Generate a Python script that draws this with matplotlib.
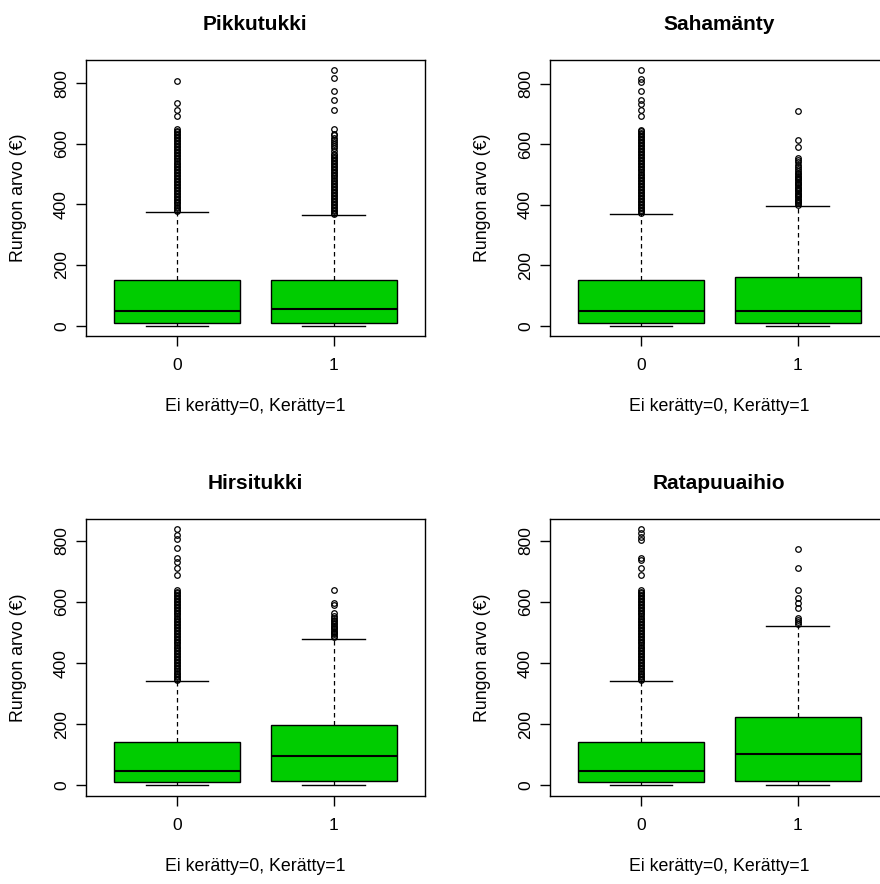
"""Stem value by collection status, one boxplot panel per timber assortment."""
import matplotlib
matplotlib.use("Agg")
import matplotlib.pyplot as plt

plt.rcParams.update({
    "font.family": ["Liberation Sans", "DejaVu Sans"],
    "font.size": 12.5,
    "axes.linewidth": 1.0,
})

GREEN = "#00cc00"

GROUPS = ["0", "1"]
TITLES = ["Pikkutukki", "Sahamänty", "Hirsitukki", "Ratapuuaihio"]
XLABEL = "Ei kerätty=0, Kerätty=1"
YLABEL = "Rungon arvo (€)"
YTICKS = [0, 200, 400, 600, 800]

# box statistics per assortment: [not collected, collected]
Q1 = [[8, 8], [8, 8], [11, 15], [11, 15]]
MEDIAN = [[47, 54], [47, 47], [46, 97], [46, 104]]
Q3 = [[152, 152], [152, 161], [143, 199], [143, 222]]
WHISLO = [[0, 0], [0, 0], [0, 0], [0, 0]]
WHISHI = [[375, 364], [370, 396], [341, 480], [341, 520]]

# values above the upper whisker
FLIERS_PIKKU_0 = [378, 383, 388, 393, 398, 403, 408, 413, 418, 423, 428, 433,
                  438, 443, 448, 453, 458, 463, 468, 473, 478, 483, 488, 493,
                  498, 503, 508, 513, 518, 523, 528, 533, 538, 543, 548, 553,
                  558, 563, 568, 573, 578, 583, 588, 593, 598, 603, 608, 613,
                  618, 623, 628, 633, 638, 643, 648, 690, 712, 734, 808]
FLIERS_PIKKU_1 = [367, 372, 377, 382, 387, 392, 397, 402, 407, 412, 417, 422,
                  427, 432, 437, 442, 447, 452, 457, 462, 467, 472, 477, 482,
                  487, 492, 497, 502, 507, 512, 517, 522, 527, 532, 537, 542,
                  547, 552, 557, 562, 567, 575, 585, 592, 600, 607, 613, 620,
                  628, 633, 648, 710, 745, 775, 818, 842]
FLIERS_SAHA_0 = [373, 378, 383, 388, 393, 398, 403, 408, 413, 418, 423, 428,
                 433, 438, 443, 448, 453, 458, 463, 468, 473, 478, 483, 488,
                 493, 498, 503, 508, 513, 518, 523, 528, 533, 538, 543, 548,
                 553, 558, 563, 568, 573, 578, 583, 588, 593, 598, 603, 608,
                 613, 618, 623, 628, 633, 638, 643, 648, 694, 712, 734, 745,
                 775, 805, 814, 844]
FLIERS_SAHA_1 = [400, 404, 408, 412, 416, 420, 424, 428, 432, 436, 440, 444,
                 448, 452, 456, 460, 464, 468, 472, 476, 480, 484, 488, 492,
                 496, 500, 505, 512, 518, 525, 532, 540, 548, 553, 590, 615, 710]
FLIERS_HIRSI_0 = [344, 349, 354, 359, 364, 369, 374, 379, 384, 389, 394, 399,
                  404, 409, 414, 419, 424, 429, 434, 439, 444, 449, 454, 459,
                  464, 469, 474, 479, 484, 489, 494, 499, 504, 509, 514, 519,
                  524, 529, 534, 539, 544, 549, 554, 559, 564, 569, 574, 579,
                  584, 589, 594, 599, 604, 609, 614, 619, 624, 629, 634, 639,
                  689, 710, 732, 743, 776, 805, 820, 838]
FLIERS_HIRSI_1 = [485, 490, 494, 498, 502, 506, 510, 514, 518, 522, 527, 532,
                  537, 542, 548, 555, 563, 589, 598, 640]
FLIERS_RATA_0 = [344, 349, 354, 359, 364, 369, 374, 379, 384, 389, 394, 399,
                 404, 409, 414, 419, 424, 429, 434, 439, 444, 449, 454, 459,
                 464, 469, 474, 479, 484, 489, 494, 499, 504, 509, 514, 519,
                 524, 529, 534, 539, 544, 549, 554, 559, 564, 569, 574, 579,
                 584, 589, 594, 599, 604, 609, 614, 619, 624, 629, 634, 639,
                 689, 710, 736, 743, 803, 812, 825, 838]
FLIERS_RATA_1 = [527, 533, 540, 546, 581, 597, 613, 640, 711, 773]

FLIERS = [[FLIERS_PIKKU_0, FLIERS_PIKKU_1], [FLIERS_SAHA_0, FLIERS_SAHA_1],
          [FLIERS_HIRSI_0, FLIERS_HIRSI_1], [FLIERS_RATA_0, FLIERS_RATA_1]]

# panel rectangles in figure fractions (right column runs off the page edge)
PANEL_RECTS = [
    [0.0977, 0.620, 0.385, 0.312],
    [0.625, 0.620, 0.385, 0.312],
    [0.0977, 0.100, 0.385, 0.313],
    [0.625, 0.100, 0.385, 0.313],
]

fig = plt.figure(figsize=(8.8, 8.84), dpi=100)

for i, rect in enumerate(PANEL_RECTS):
    ax = fig.add_axes(rect)
    stats = []
    for g in range(len(GROUPS)):
        stats.append({
            "q1": Q1[i][g], "med": MEDIAN[i][g], "q3": Q3[i][g],
            "whislo": WHISLO[i][g], "whishi": WHISHI[i][g],
            "fliers": FLIERS[i][g],
        })
    ax.bxp(stats, positions=[1, 2], widths=0.8, patch_artist=True,
           manage_ticks=False,
           boxprops=dict(facecolor=GREEN, edgecolor="black", linewidth=1.0),
           medianprops=dict(color="black", linewidth=1.5),
           whiskerprops=dict(color="black", linewidth=0.9,
                             linestyle=(0, (3.6, 2.8))),
           capprops=dict(color="black", linewidth=1.0),
           flierprops=dict(marker="o", markerfacecolor="none",
                           markeredgecolor="black", markersize=4.0,
                           markeredgewidth=0.9))

    # R-style 4% padding around the data range
    vals = [v for s in stats for v in s["fliers"] + [s["whislo"], s["whishi"]]]
    lo, hi = min(vals), max(vals)
    span = hi - lo
    ax.set_ylim(lo - 0.04 * span, hi + 0.04 * span)
    ax.set_xlim(0.42, 2.58)

    ax.set_xticks([1, 2])
    ax.set_xticklabels(GROUPS)
    ax.set_yticks(YTICKS)
    ax.tick_params(direction="out", length=7.2, width=1.0)
    ax.tick_params(axis="x", pad=9)
    ax.tick_params(axis="y", pad=5, labelrotation=90)
    for lab in ax.get_yticklabels():
        lab.set_va("center")

    ax.set_title(TITLES[i], fontsize=15, fontweight="bold", pad=21.6)
    ax.set_xlabel(XLABEL, fontsize=12.8)
    ax.set_ylabel(YLABEL, fontsize=12.8)
    ax.xaxis.set_label_coords(0.5, -0.225)
    ax.yaxis.set_label_coords(-0.174, 0.5)

fig.savefig("out.png", dpi=100, facecolor="white")
plt.close(fig)
